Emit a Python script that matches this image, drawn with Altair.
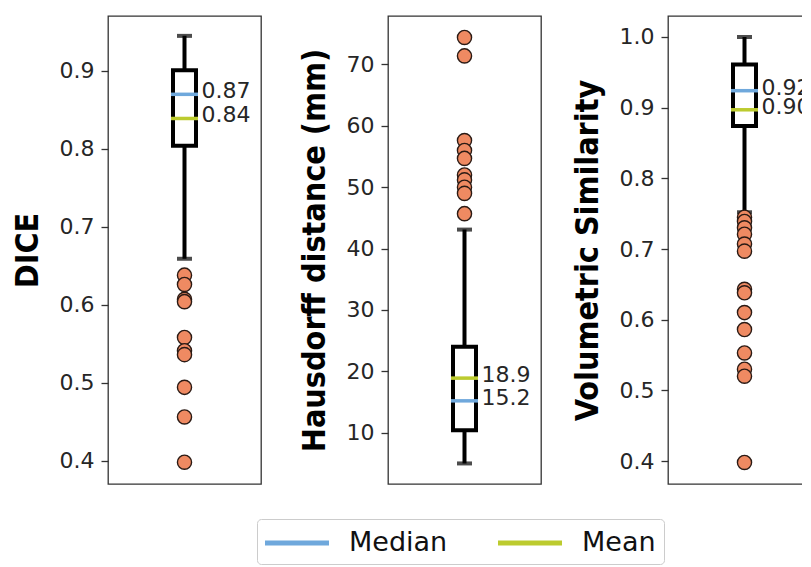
import altair as alt
import pandas as pd

# ---------------- data ----------------
METRICS = ["DICE", "Hausdorff distance (mm)", "Volumetric Similarity"]
Q1 = [0.804, 10.4, 0.874]
Q3 = [0.901, 24.0, 0.961]
WHISK_LO = [0.659, 5.0, 0.752]
WHISK_HI = [0.945, 43.1, 1.000]
MEDIAN = [0.870, 15.2, 0.924]
MEAN = [0.839, 18.9, 0.897]

OUT_DICE = [0.638, 0.626, 0.607, 0.604, 0.558, 0.541, 0.536, 0.494, 0.456, 0.398]
OUT_HD = [74.4, 71.4, 57.6, 56.0, 54.7, 52.0, 51.2, 50.0, 49.0, 45.7]
OUT_VS = [0.745, 0.739, 0.730, 0.721, 0.707, 0.697, 0.643, 0.638, 0.610,
          0.586, 0.553, 0.530, 0.520, 0.398]
OUTLIERS = [OUT_DICE, OUT_HD, OUT_VS]

Y_DOMAINS = [[0.370, 0.9705], [1.65, 77.9], [0.3675, 1.0297]]
Y_TICKS = [[0.4, 0.5, 0.6, 0.7, 0.8, 0.9],
           [10, 20, 30, 40, 50, 60, 70],
           [0.4, 0.5, 0.6, 0.7, 0.8, 0.9, 1.0]]
TICK_FMT = [".1f", "d", ".1f"]
VAL_FMT = [".2f", ".1f", ".2f"]

STATS = ["Median", "Mean"]
STAT_COLORS = ["#6fa8dc", "#bccb2e"]

BOX_W = 23
LW = 4


def panel(i):
    m = METRICS[i]
    box = pd.DataFrame({"metric": [m], "q1": [Q1[i]], "q3": [Q3[i]],
                        "lo": [WHISK_LO[i]], "hi": [WHISK_HI[i]]})
    caps = pd.DataFrame({"metric": [m, m], "v": [WHISK_LO[i], WHISK_HI[i]]})
    stats = pd.DataFrame({"metric": [m, m], "stat": STATS,
                          "v": [MEDIAN[i], MEAN[i]]})
    outs = pd.DataFrame({"metric": [m] * len(OUTLIERS[i]), "v": OUTLIERS[i]})

    x = alt.X("metric:N", axis=None)
    yscale = alt.Scale(domain=Y_DOMAINS[i], nice=False, zero=False)
    yaxis = alt.Axis(values=Y_TICKS[i], format=TICK_FMT[i], title=m)

    whisk = alt.Chart(box).mark_rule(color="black", strokeWidth=LW).encode(
        x=x, y=alt.Y("lo:Q", scale=yscale, axis=yaxis), y2="hi:Q")
    capm = alt.Chart(caps).mark_tick(color="black", size=15, thickness=LW).encode(
        x=x, y=alt.Y("v:Q"))
    boxm = alt.Chart(box).mark_bar(width=BOX_W, fill="white", stroke="black",
                                   strokeWidth=LW).encode(
        x=x, y=alt.Y("q1:Q"), y2="q3:Q")
    statm = alt.Chart(stats).mark_tick(size=BOX_W + 4, thickness=3.5,
                                       opacity=1).encode(
        x=x, y=alt.Y("v:Q"),
        color=alt.Color("stat:N",
                        scale=alt.Scale(domain=STATS, range=STAT_COLORS),
                        legend=alt.Legend(
                            title=None, orient="none", direction="horizontal",
                            legendX=149, legendY=503,
                            symbolType="M-1,-0.156H3V0.156H-1Z",
                            symbolSize=1024, symbolStrokeWidth=0,
                            symbolOpacity=1,
                            labelFontSize=27,
                            labelFont="DejaVu Sans", labelColor="#111",
                            labelOffset=52, columnPadding=50,
                            strokeColor="#cccccc", cornerRadius=4,
                            padding=8, fillColor="white")))
    textm = alt.Chart(stats).mark_text(align="left", baseline="middle", dx=17,
                                       dy=-3, fontSize=22, font="DejaVu Sans",
                                       color="#262626").encode(
        x=x, y=alt.Y("v:Q"), text=alt.Text("v:Q", format=VAL_FMT[i]))
    outm = alt.Chart(outs).mark_point(shape="circle", filled=True,
                                      fill="#ef8a62", stroke="#2a1a14",
                                      strokeWidth=1.4, size=200,
                                      opacity=1).encode(
        x=x, y=alt.Y("v:Q"))

    return alt.layer(whisk, capm, boxm, statm, textm, outm).properties(
        width=153, height=468)


chart = alt.hconcat(panel(0), panel(1), panel(2), spacing=127,
                    bounds="flush").properties(
    padding={"left": 2, "top": 7, "right": -20, "bottom": 0}
).configure_view(stroke="#333333", strokeWidth=1.3).configure_axis(
    labelFont="DejaVu Sans", labelFontSize=22, labelColor="#262626",
    tickColor="#333333", tickSize=7, tickWidth=1.3, domain=False, grid=False,
    labelPadding=7,
    titleFont="DejaVu Sans Condensed, Liberation Sans Narrow, DejaVu Sans",
    titleFontWeight="bold", titleFontSize=32, titleColor="black",
    titlePadding=15)

chart.save("out.html", embed_options={"renderer": "svg", "actions": False})
